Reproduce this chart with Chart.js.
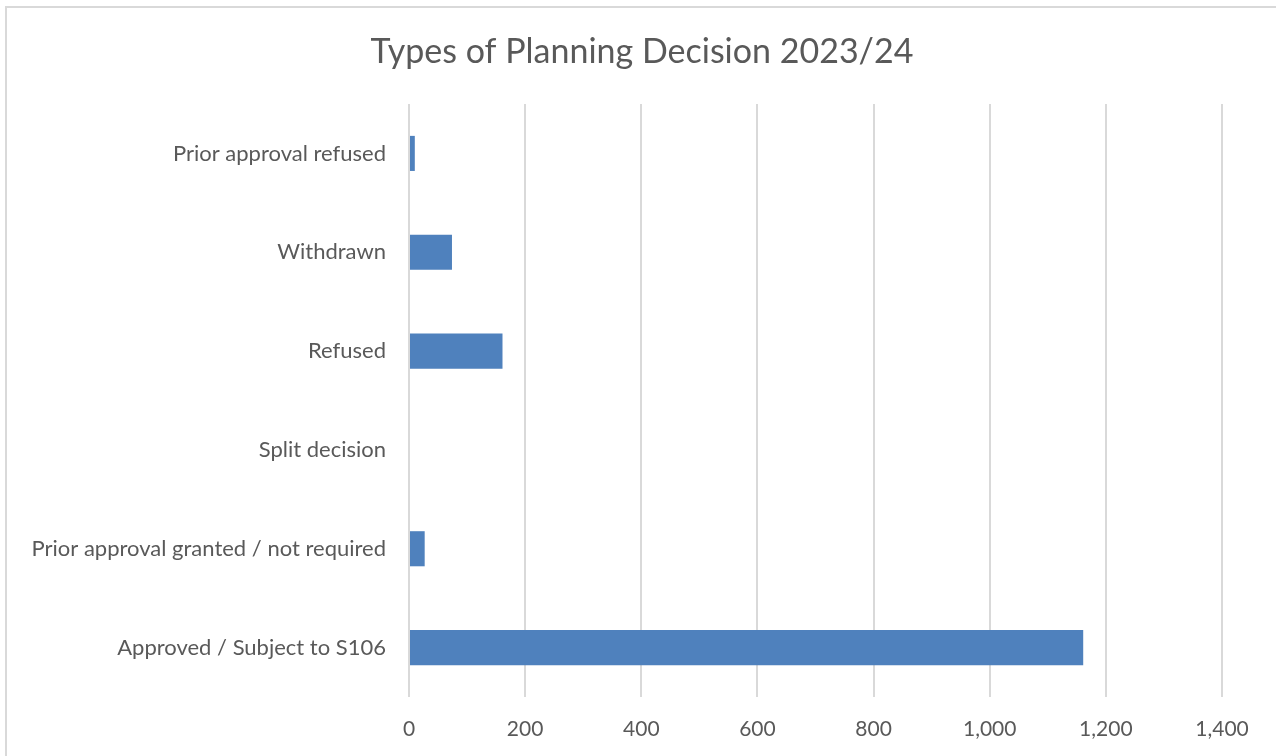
<!DOCTYPE html>
<html>
<head>
<meta charset="utf-8">
<script src="https://cdn.jsdelivr.net/npm/chart.js@4"></script>
<style>
    html, body { margin: 0; padding: 0; background: #ffffff; }
    #frame {
        position: absolute; left: 5px; top: 6px;
        width: 1280px; height: 760px;
        border: 2px solid #d9d9d9; box-sizing: border-box;
    }
    #wrap { position: absolute; left: 0; top: 0; width: 1276px; height: 756px; }
</style>
</head>
<body>
<div id="frame"></div>
<div id="wrap"><canvas id="myChart" width="1276" height="756"></canvas></div>
<script>
// Kategori (urutan atas ke bawah)
const categories = [
    'Prior approval refused',
    'Withdrawn',
    'Refused',
    'Split decision',
    'Prior approval granted / not required',
    'Approved / Subject to S106'
];
// Jumlah keputusan
const decisionCounts = [10, 74, 161, 0, 27, 1161];
// Label sumbu X
const xTickValues = [0, 200, 400, 600, 800, 1000, 1200, 1400];

const chartTitle = 'Types of Planning Decision 2023/24';
const textColor = '#595959';
const fontFamily = 'Lato, "Open Sans", sans-serif';

// Judul digambar sendiri supaya bisa ditengahkan pada seluruh kotak grafik
const titlePlugin = {
    id: 'centeredTitle',
    afterDraw(chart) {
        const c = chart.ctx;
        c.save();
        c.fillStyle = textColor;
        c.font = '34px ' + fontFamily;
        c.textAlign = 'center';
        c.textBaseline = 'middle';
        c.fillText(chartTitle, 642, 52);
        c.restore();
    }
};

document.addEventListener('DOMContentLoaded', function () {
    const ctx = document.getElementById('myChart').getContext('2d');
    new Chart(ctx, {
        type: 'bar',
        data: {
            labels: categories,
            datasets: [{
                label: 'Decisions',
                data: decisionCounts,
                backgroundColor: '#4f81bd',
                borderWidth: 0,
                barPercentage: 0.355,
                categoryPercentage: 1
            }]
        },
        options: {
            indexAxis: 'y',
            responsive: false,
            animation: false,
            layout: { padding: { left: 0, right: 54, top: 104, bottom: 0 } },
            plugins: {
                legend: { display: false },
                tooltip: { enabled: false },
                title: { display: false }
            },
            scales: {
                x: {
                    min: xTickValues[0],
                    max: xTickValues[xTickValues.length - 1],
                    afterBuildTicks: function (scale) {
                        scale.ticks = xTickValues.map(v => ({ value: v }));
                    },
                    afterFit: function (scale) { scale.height = 59; },
                    grid: { color: '#d9d9d9', lineWidth: 2, drawTicks: false },
                    border: { display: false },
                    ticks: {
                        color: textColor,
                        font: { family: fontFamily, size: 21 },
                        padding: 20,
                        callback: v => v.toLocaleString('en-US')
                    }
                },
                y: {
                    afterFit: function (scale) { scale.width = 409; },
                    grid: { display: false, drawTicks: false },
                    border: { display: false },
                    ticks: {
                        color: textColor,
                        font: { family: fontFamily, size: 22 },
                        padding: 23
                    }
                }
            }
        },
        plugins: [titlePlugin]
    });
});
</script>
</body>
</html>
